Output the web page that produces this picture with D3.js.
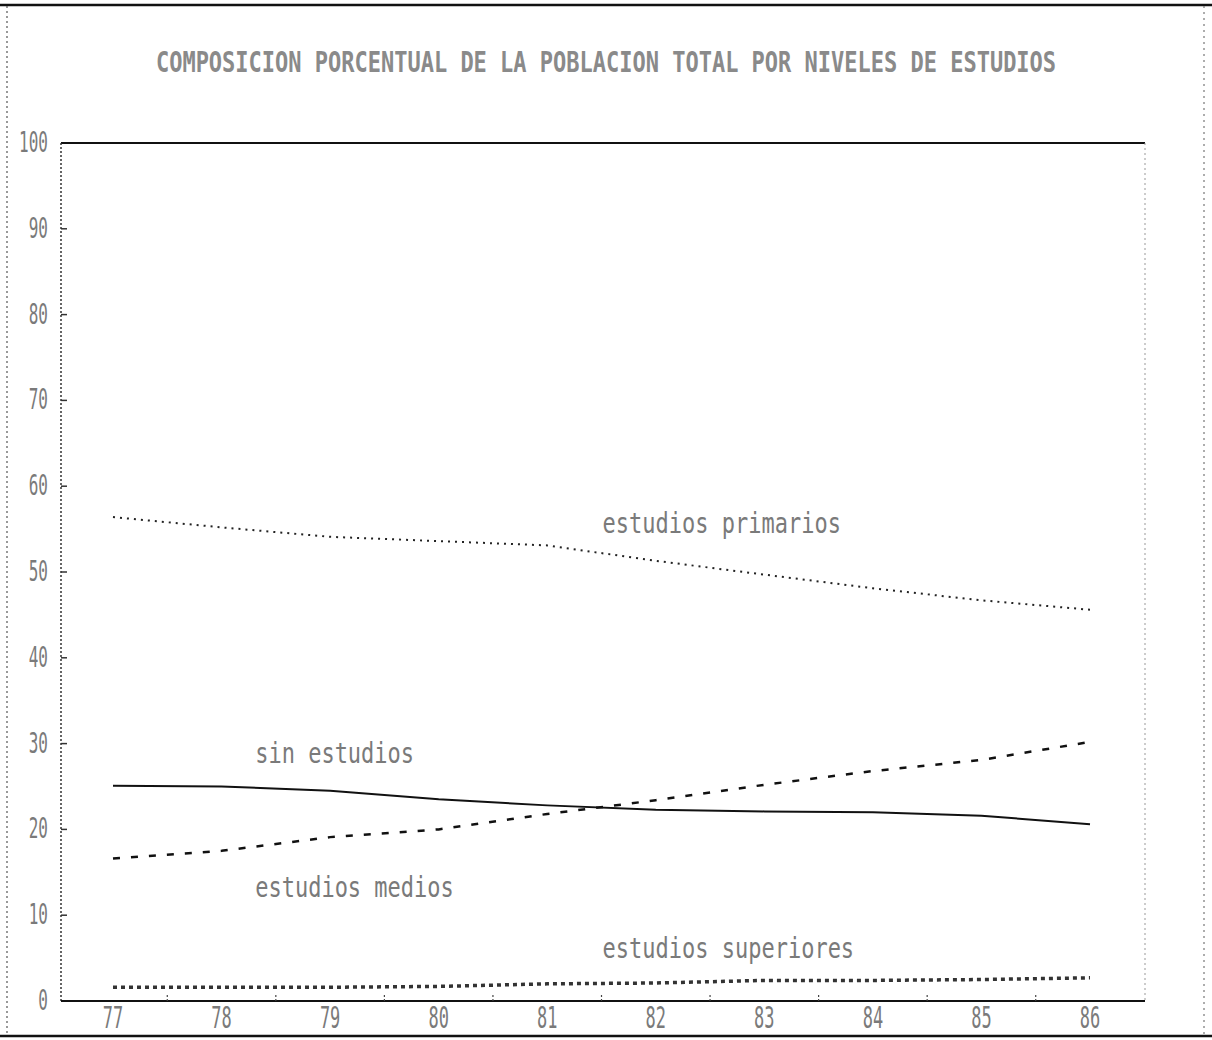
<!DOCTYPE html>
<html>
<head>
<meta charset="utf-8">
<script src="https://cdn.jsdelivr.net/npm/d3@7"></script>
<style>
  html, body { margin: 0; padding: 0; background: #fff; }
  svg { display: block; }
  text { font-family: "DejaVu Sans Mono", "Liberation Mono", monospace; fill: #7a7a7a; }
</style>
</head>
<body>
<svg width="1212" height="1040"></svg>
<script>
// values (percent of total population)
const years = [77, 78, 79, 80, 81, 82, 83, 84, 85, 86];
const primarios = [56.4, 55.2, 54.1, 53.6, 53.1, 51.3, 49.7, 48.1, 46.7, 45.6];
const sinEstudios = [25.1, 25.0, 24.5, 23.5, 22.8, 22.3, 22.1, 22.0, 21.6, 20.6];
const medios = [16.6, 17.5, 19.1, 20.0, 21.8, 23.4, 25.2, 26.8, 28.1, 30.2];
const superiores = [1.6, 1.6, 1.6, 1.7, 2.0, 2.1, 2.4, 2.4, 2.5, 2.7];
const yTicks = [0, 10, 20, 30, 40, 50, 60, 70, 80, 90, 100];
const title = "COMPOSICION PORCENTUAL DE LA POBLACION TOTAL POR NIVELES DE ESTUDIOS";

const svg = d3.select("svg");

const x = d3.scaleLinear().domain([77, 86]).range([113, 1090]);
const y = d3.scaleLinear().domain([0, 100]).range([1001, 143]);
const plotLeft = 61, plotRight = 1145;

// outer frame of the printout
svg.append("line").attr("x1", 0).attr("x2", 1212).attr("y1", 5).attr("y2", 5)
    .attr("stroke", "#111").attr("stroke-width", 2.5);
svg.append("line").attr("x1", 0).attr("x2", 1212).attr("y1", 1036).attr("y2", 1036)
    .attr("stroke", "#111").attr("stroke-width", 2.5);
svg.append("line").attr("x1", 7).attr("x2", 7).attr("y1", 6).attr("y2", 1035)
    .attr("stroke", "#555").attr("stroke-width", 1.2).attr("stroke-dasharray", "2,3");
svg.append("line").attr("x1", 1204).attr("x2", 1204).attr("y1", 6).attr("y2", 1035)
    .attr("stroke", "#777").attr("stroke-width", 1.2).attr("stroke-dasharray", "2,4");

function stretchedText(g, str, tx, ty, size, sy, anchor) {
    return g.append("text")
        .attr("transform", `translate(${tx},${ty}) scale(1,${sy})`)
        .attr("font-size", size)
        .attr("text-anchor", anchor || "start")
        .text(str);
}
// title
stretchedText(svg, title, 606, 72, 22, 1.3, "middle").attr("font-weight", "bold").style("fill", "#8a8a8a");

// plot box
svg.append("line").attr("x1", plotLeft).attr("x2", plotRight).attr("y1", y(100)).attr("y2", y(100))
    .attr("stroke", "#111").attr("stroke-width", 2);
svg.append("line").attr("x1", plotRight).attr("x2", plotRight).attr("y1", y(100)).attr("y2", y(0))
    .attr("stroke", "#999").attr("stroke-width", 1).attr("stroke-dasharray", "2,3");
svg.append("line").attr("x1", plotLeft).attr("x2", plotLeft).attr("y1", y(100)).attr("y2", y(0))
    .attr("stroke", "#333").attr("stroke-width", 1.5).attr("stroke-dasharray", "2,2");
svg.append("line").attr("x1", plotLeft).attr("x2", plotRight).attr("y1", y(0)).attr("y2", y(0))
    .attr("stroke", "#111").attr("stroke-width", 2);

// y axis ticks and labels
const yAxis = svg.append("g");
yAxis.selectAll("line").data(yTicks.filter(d => d > 0 && d < 100)).enter().append("line")
    .attr("x1", plotLeft).attr("x2", plotLeft + 6)
    .attr("y1", d => y(d)).attr("y2", d => y(d))
    .attr("stroke", "#333").attr("stroke-width", 1.5);
yAxis.selectAll("text").data(yTicks).enter().append("text")
    .attr("transform", d => `translate(48,${y(d) + 9}) scale(1,1.75)`)
    .attr("font-size", 16)
    .attr("text-anchor", "end")
    .text(d => d);

// x axis: labels at years, small ticks half way between
const xAxis = svg.append("g");
xAxis.selectAll("line").data(years.slice(0, -1)).enter().append("line")
    .attr("x1", d => x(d + 0.5)).attr("x2", d => x(d + 0.5))
    .attr("y1", y(0)).attr("y2", y(0) - 7)
    .attr("stroke", "#444").attr("stroke-width", 1.2).attr("stroke-dasharray", "2,2");
xAxis.selectAll("text").data(years).enter().append("text")
    .attr("transform", d => `translate(${x(d)},${1028}) scale(1,1.75)`)
    .attr("font-size", 17)
    .attr("text-anchor", "middle")
    .text(d => d);

// series
const line = d3.line().x((d, i) => x(years[i])).y(d => y(d));
const series = [
    {name: "estudios primarios", values: primarios, width: 2, dash: "2,5", color: "#222"},
    {name: "sin estudios", values: sinEstudios, width: 2, dash: null, color: "#111"},
    {name: "estudios medios", values: medios, width: 2.5, dash: "7,11", color: "#111"},
    {name: "estudios superiores", values: superiores, width: 3.5, dash: "4,4", color: "#333"}
];
svg.append("g").selectAll("path").data(series).enter().append("path")
    .attr("d", d => line(d.values))
    .attr("fill", "none")
    .attr("stroke", d => d.color)
    .attr("stroke-width", d => d.width)
    .attr("stroke-dasharray", d => d.dash);

// series labels
const labels = [
    {text: "estudios primarios", year: 81.51, value: 54.5},
    {text: "sin estudios", year: 78.31, value: 27.7},
    {text: "estudios medios", year: 78.31, value: 12.1},
    {text: "estudios superiores", year: 81.51, value: 5.0}
];
const labelGroup = svg.append("g");
labels.forEach(l => stretchedText(labelGroup, l.text, x(l.year), y(l.value), 22, 1.3));
</script>
</body>
</html>
